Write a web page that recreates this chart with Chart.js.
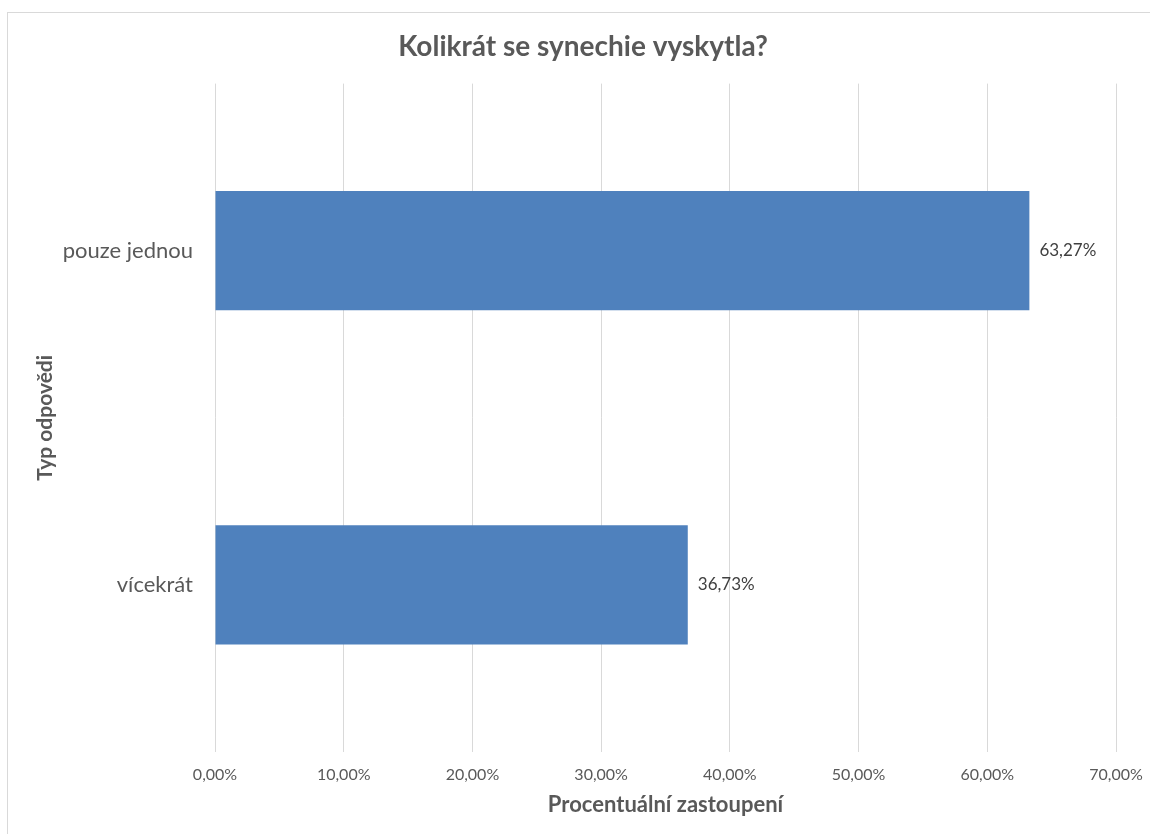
<!DOCTYPE html>
<html lang="cs">
<head>
<meta charset="utf-8">
<title>Kolikrát se synechie vyskytla?</title>
<script src="https://cdn.jsdelivr.net/npm/chart.js@4/dist/chart.umd.min.js"></script>
<style>
  html, body { margin: 0; padding: 0; background: #fff; }
  #ramec { position: absolute; left: 7px; top: 12px; width: 1160px; height: 830px; border: 1px solid #d9d9d9; }
  #graf { position: absolute; left: 0; top: 0; }
</style>
</head>
<body>
<div id="ramec"></div>
<canvas id="graf" width="1150" height="834"></canvas>
<script>
const kategorie = ['pouze jednou', 'vícekrát'];
const hodnoty = [63.27, 36.73];
const nadpis = 'Kolikrát se synechie vyskytla?';
const popisX = 'Procentuální zastoupení';
const popisY = 'Typ odpovědi';

const pismo = 'Lato, "Open Sans", sans-serif';
const seda = '#595959';

function naProcenta(v) {
  return v.toFixed(2).replace('.', ',') + '%';
}

// popisky hodnot za koncem sloupců
const popiskyHodnot = {
  id: 'popiskyHodnot',
  afterDatasetsDraw(chart) {
    const ctx = chart.ctx;
    ctx.save();
    ctx.font = '17px ' + pismo;
    ctx.fillStyle = '#404040';
    ctx.textAlign = 'left';
    ctx.textBaseline = 'middle';
    chart.getDatasetMeta(0).data.forEach((bar, i) => {
      ctx.fillText(naProcenta(hodnoty[i]), bar.x + 10, bar.y);
    });
    ctx.restore();
  }
};

new Chart(document.getElementById('graf').getContext('2d'), {
  type: 'bar',
  data: {
    labels: kategorie,
    datasets: [{
      data: hodnoty,
      backgroundColor: '#4f81bd',
      borderWidth: 0,
      categoryPercentage: 1,
      barPercentage: 0.357
    }]
  },
  options: {
    indexAxis: 'y',
    responsive: false,
    animation: false,
    layout: { padding: { left: 16, right: 0, top: 0, bottom: 0 } },
    scales: {
      x: {
        min: 0,
        max: 70,
        ticks: {
          stepSize: 10,
          padding: 13,
          color: seda,
          font: { family: pismo, size: 16 },
          callback: v => naProcenta(v)
        },
        grid: { color: '#d9d9d9', drawTicks: false },
        border: { display: false },
        title: {
          display: true,
          text: popisX,
          color: seda,
          font: { family: pismo, size: 22, weight: 'bold' },
          padding: { top: 8, bottom: 16 }
        },
        afterFit(scale) {
          scale.height = 82;
          scale.paddingRight = 34;
        }
      },
      y: {
        ticks: {
          padding: 22,
          color: seda,
          font: { family: pismo, size: 22 }
        },
        grid: { display: false, drawTicks: false },
        border: { display: false },
        title: {
          display: true,
          text: popisY,
          color: seda,
          font: { family: pismo, size: 21, weight: 'bold' },
          padding: { top: 17, bottom: 0 }
        },
        afterFit(scale) { scale.width = 199; }
      }
    },
    plugins: {
      legend: { display: false },
      tooltip: { enabled: false },
      title: {
        display: true,
        text: nadpis,
        color: seda,
        font: { family: pismo, size: 28, weight: 'bold' },
        padding: { top: 30, bottom: 20 }
      }
    }
  },
  plugins: [popiskyHodnot]
});
</script>
</body>
</html>
